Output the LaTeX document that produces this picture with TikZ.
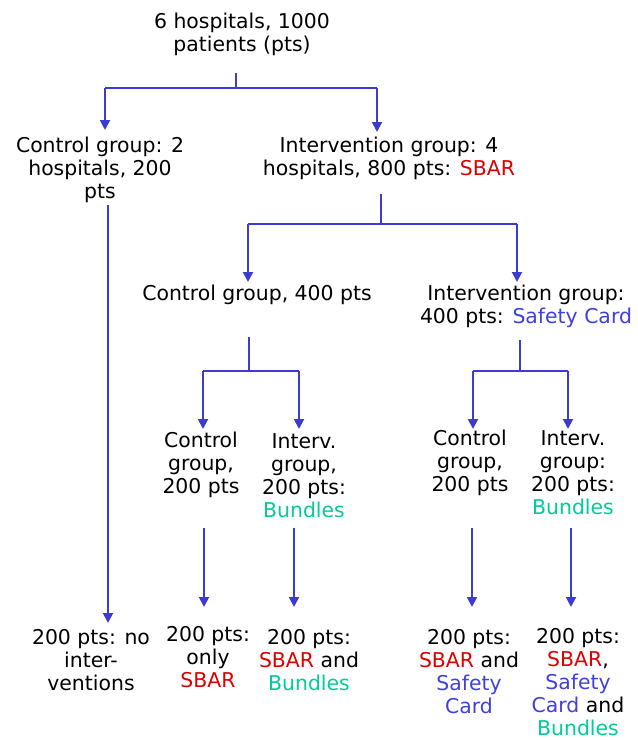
\documentclass[tikz,border=0pt]{standalone}
\usepackage{fontspec}
\setmainfont{DejaVu Sans}
\usetikzlibrary{arrows.meta}
\definecolor{linkblue}{RGB}{60,60,210}
\definecolor{sbarred}{RGB}{221,0,0}
\definecolor{cardblue}{RGB}{64,64,221}
\definecolor{bundlegreen}{RGB}{0,204,153}
\newcommand{\sbar}{\textcolor{sbarred}{SBAR}}
\newcommand{\bundles}{\textcolor{bundlegreen}{Bundles}}
\begin{document}
\begin{tikzpicture}[x=1pt,y=-1pt,
  box/.style={anchor=north,inner sep=0pt,align=center,font=\fontsize{20.4}{23}\selectfont},
  bar/.style={draw=linkblue,line width=1.4pt},
  arr/.style={draw=linkblue,line width=2pt,-{Triangle[width=10pt,length=10pt]}}]
\useasboundingbox (0,0) rectangle (638,740);
\node[box] (top) at (242,13) {6 hospitals, 1000\\patients (pts)};
\node[box] (ctrlA) at (100,137) {Control group: 2\\hospitals, 200\\pts};
\node[box] (intA) at (389,137) {Intervention group: 4\\hospitals, 800 pts: \sbar};
\node[box] (ctrlB) at (257,285) {Control group, 400 pts};
\node[box] (intB) at (526,285) {Intervention group:\\400 pts: \textcolor{cardblue}{Safety Card}};
\node[box] (ctrlC) at (201,432) {Control\\group,\\200 pts};
\node[box] (intC) at (304,433) {Interv.\\group,\\200 pts:\\\bundles};
\node[box] (ctrlD) at (470,430) {Control\\group,\\200 pts};
\node[box] (intD) at (573,430) {Interv.\\group:\\200 pts:\\\bundles};
\node[box] (endA) at (91,629) {200 pts: no\\inter-\\ventions};
\node[box] (endB) at (208,626) {200 pts:\\only\\\sbar};
\node[box] (endC) at (309,629) {200 pts:\\\sbar{} and\\\bundles};
\node[box] (endD) at (469,629) {200 pts:\\\sbar{} and\\\textcolor{cardblue}{Safety}\\\textcolor{cardblue}{Card}};
\node[box] (endE) at (578,628) {200 pts:\\\sbar,\\\textcolor{cardblue}{Safety}\\\textcolor{cardblue}{Card} and\\\bundles};
\coordinate (stemA) at (236,73); \coordinate (jA) at (236,88);
\coordinate (jAl) at (105,88); \coordinate (jAr) at (377,88);
\coordinate (stemB) at (381,194); \coordinate (jB) at (381,224);
\coordinate (jBl) at (248,224); \coordinate (jBr) at (517,224);
\coordinate (stemC) at (249,337); \coordinate (jC) at (249,371);
\coordinate (jCl) at (203,371); \coordinate (jCr) at (299,371);
\coordinate (stemD) at (520,340); \coordinate (jD) at (520,371);
\coordinate (jDl) at (473,371); \coordinate (jDr) at (568,371);
\coordinate (longA) at (108,205); \coordinate (longB) at (108,623);
\draw[bar] (stemA) -- (jA); \draw[bar] (jAl) -- (jAr);
\draw[arr] (jAl) -- (jAl |- 0,130); \draw[arr] (jAr) -- (jAr |- 0,132);
\draw[bar] (stemB) -- (jB); \draw[bar] (jBl) -- (jBr);
\draw[arr] (jBl) -- (jBl |- 0,282); \draw[arr] (jBr) -- (jBr |- 0,282);
\draw[bar] (stemC) -- (jC); \draw[bar] (jCl) -- (jCr);
\draw[arr] (jCl) -- (jCl |- 0,429); \draw[arr] (jCr) -- (jCr |- 0,429);
\draw[bar] (stemD) -- (jD); \draw[bar] (jDl) -- (jDr);
\draw[arr] (jDl) -- (jDl |- 0,429); \draw[arr] (jDr) -- (jDr |- 0,429);
\draw[arr] (longA) -- (longB);
\draw[arr] (204,528) -- (204,607);
\draw[arr] (294,528) -- (294,607);
\draw[arr] (472,528) -- (472,607);
\draw[arr] (571,528) -- (571,607);
\end{tikzpicture}
\end{document}
